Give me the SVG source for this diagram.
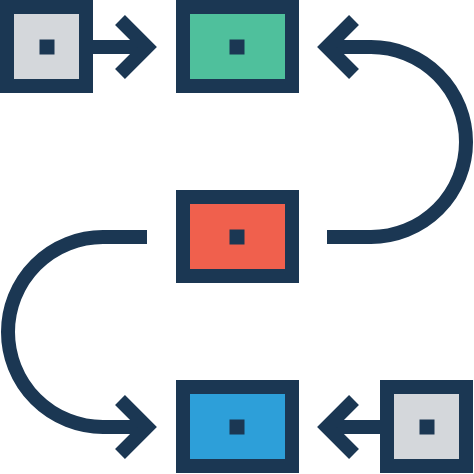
<svg xmlns="http://www.w3.org/2000/svg" width="474" height="474" viewBox="0 0 474 474">
<style>
.box{stroke:#1b3753;stroke-width:14}
.dot{fill:#1b3753}
.line{fill:none;stroke:#1b3753;stroke-width:14;stroke-linejoin:miter;stroke-miterlimit:10;stroke-linecap:butt}
</style>
<rect width="474" height="474" fill="#ffffff"/>
<g id="connectors">
<path class="line" d="M86,47 H147"/>
<polyline class="line" points="120,20 147,47 120,74"/>
<path class="line" d="M327,47 H371 A95,95 0 0 1 371,237 H327"/>
<polyline class="line" points="354,20 327,47 354,74"/>
<path class="line" d="M147,237 H103 A95,95 0 0 0 103,427 H147"/>
<polyline class="line" points="120,400 147,427 120,454"/>
<path class="line" d="M387,427 H327"/>
<polyline class="line" points="354,400 327,427 354,454"/>
</g>
<g id="source-top">
<rect class="box" x="7" y="7" width="79" height="79" fill="#d4d7db"/>
<rect class="dot" x="39.5" y="39.5" width="15" height="15"/>
</g>
<g id="green">
<rect class="box" x="183" y="7" width="109" height="79" fill="#4fc09c"/>
<rect class="dot" x="229.5" y="39.5" width="15" height="15"/>
</g>
<g id="red">
<rect class="box" x="183" y="197" width="109" height="79" fill="#f0604d"/>
<rect class="dot" x="229.5" y="229.5" width="15" height="15"/>
</g>
<g id="blue">
<rect class="box" x="183" y="387" width="109" height="79" fill="#2d9fd9"/>
<rect class="dot" x="229.5" y="419.5" width="15" height="15"/>
</g>
<g id="source-bottom">
<rect class="box" x="387" y="387" width="79" height="79" fill="#d4d7db"/>
<rect class="dot" x="419.5" y="419.5" width="15" height="15"/>
</g>
</svg>
